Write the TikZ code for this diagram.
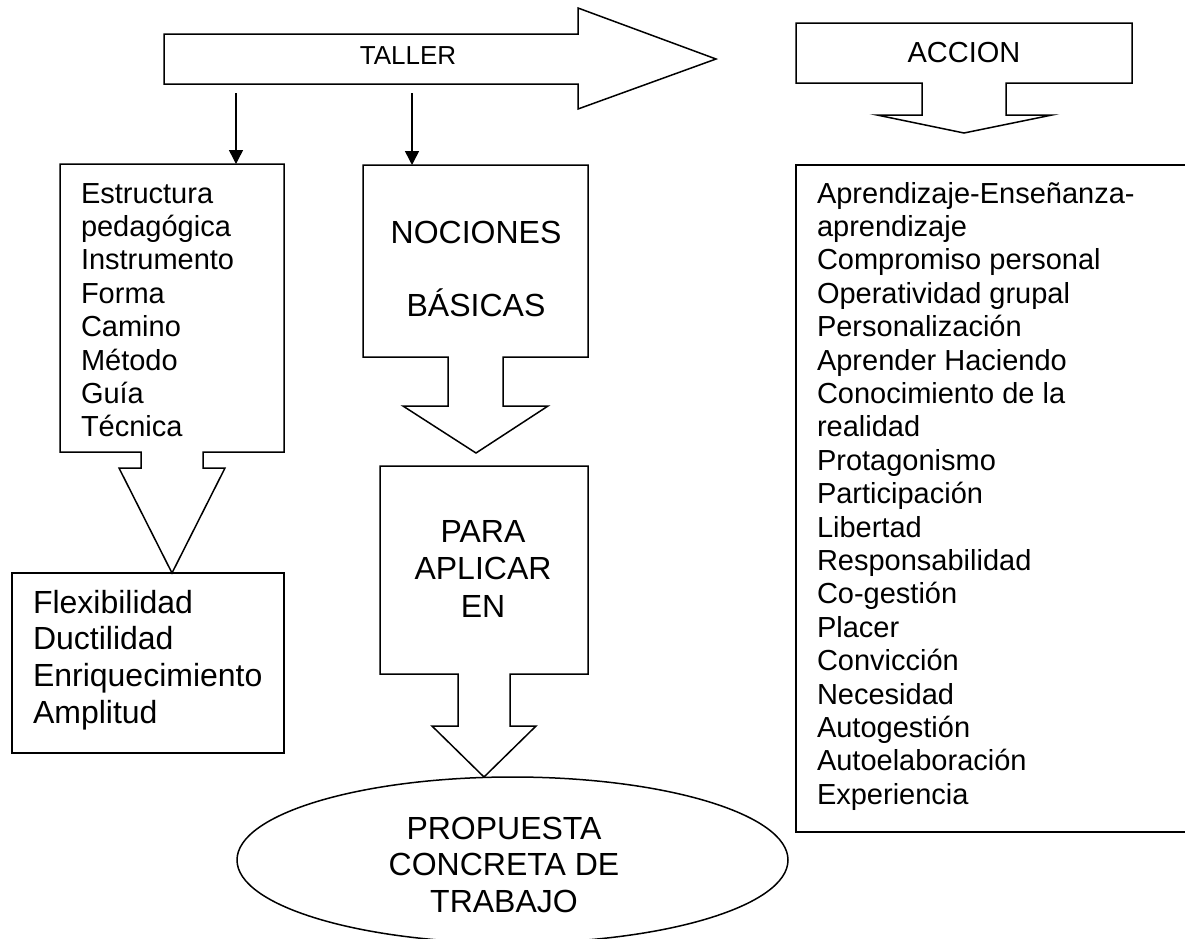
\documentclass[tikz,border=0pt]{standalone}
\usepackage{fontspec}
\setmainfont{Liberation Sans}
\usetikzlibrary{arrows.meta}
\newcommand\leftlines[1]{\vtop{\halign{##\hfil\cr#1\crcr}}}
\newcommand\centerlines[1]{\vtop{\halign{\hfil##\hfil\cr#1\crcr}}}
\begin{document}
\begin{tikzpicture}[x=1pt,y=-1pt,
  blk/.style={draw=black, line width=1.5pt, line join=miter},
  conn/.style={draw=black, line width=1.5pt, -{Triangle[length=14pt,width=14pt]}},
  txt/.style={inner sep=0pt, outer sep=0pt},
  fA/.style={font=\fontsize{29}{33.4}\selectfont},
  fB/.style={font=\fontsize{32}{36.7}\selectfont},
]
\useasboundingbox (0,0) rectangle (1185,938);
\fill[white] (0,0) rectangle (1185,938);

% TALLER block arrow
\draw[blk] (164,34) -- (578,34) -- (578,8) -- (716,59) -- (578,109) -- (578,84) -- (164,84) -- cycle;
\node[txt, anchor=base, font=\fontsize{26}{30}\selectfont] (taller) at (408,64.5) {TALLER};

% ACCION down arrow box
\draw[blk] (796,23) -- (1132,23) -- (1132,83) -- (1006,83) -- (1006,115) -- (1052,115) -- (964,133)
  -- (877,115) -- (922,115) -- (922,83) -- (796,83) -- cycle;
\node[txt, anchor=base, font=\fontsize{29}{33}\selectfont] (accion) at (964,62) {ACCION};

% connectors from TALLER
\coordinate (s1) at (236,93);
\coordinate (e1) at (236,164);
\coordinate (s2) at (412,93);
\coordinate (e2) at (412,165);
\draw[conn] (s1) -- (e1);
\draw[conn] (s2) -- (e2);

% Estructura box with arrow
\draw[blk] (60,164) -- (284,164) -- (284,452) -- (203,452) -- (203,468) -- (225,468) -- (172,573)
  -- (119,468) -- (141,468) -- (141,452) -- (60,452) -- cycle;
\node[txt, fA, anchor=base west] (estr) at (81,203)
  {\leftlines{Estructura\cr pedagógica\cr Instrumento\cr Forma\cr Camino\cr Método\cr Guía\cr Técnica}};

% Flexibilidad box
\draw[blk] (12,573) rectangle (284,753);
\node[txt, fB, anchor=base west] (flex) at (33,613)
  {\leftlines{Flexibilidad\cr Ductilidad\cr Enriquecimiento\cr Amplitud}};

% NOCIONES box with arrow
\draw[blk] (363,165) -- (588,165) -- (588,357) -- (503,357) -- (503,406) -- (548,406) -- (476,453)
  -- (403,406) -- (448,406) -- (448,357) -- (363,357) -- cycle;
\node[txt, fB, anchor=base] (noc) at (476,243) {NOCIONES};
\node[txt, fB, anchor=base] (bas) at (476,316) {BÁSICAS};

% PARA APLICAR EN box with arrow
\draw[blk] (380,466) -- (588,466) -- (588,674) -- (510,674) -- (510,726) -- (536,726) -- (484,777)
  -- (432,726) -- (458,726) -- (458,674) -- (380,674) -- cycle;
\node[txt, anchor=base, font=\fontsize{32}{37.5}\selectfont] (para) at (483,542)
  {\centerlines{PARA\cr APLICAR\cr EN}};

% ellipse
\draw[blk] (512.5,860) ellipse [x radius=275.5pt, y radius=83pt];
\node[txt, anchor=base, font=\fontsize{32}{36.5}\selectfont] (prop) at (504,839)
  {\centerlines{PROPUESTA\cr CONCRETA DE\cr TRABAJO}};

% right list box
\draw[blk] (796,165) rectangle (1200,832);
\node[txt, fA, anchor=base west] (lista) at (817,203)
  {\leftlines{Aprendizaje-Enseñanza-\cr aprendizaje\cr Compromiso personal\cr Operatividad grupal\cr
  Personalización\cr Aprender Haciendo\cr Conocimiento de la\cr realidad\cr Protagonismo\cr
  Participación\cr Libertad\cr Responsabilidad\cr Co-gestión\cr Placer\cr Convicción\cr
  Necesidad\cr Autogestión\cr Autoelaboración\cr Experiencia}};
\end{tikzpicture}
\end{document}
